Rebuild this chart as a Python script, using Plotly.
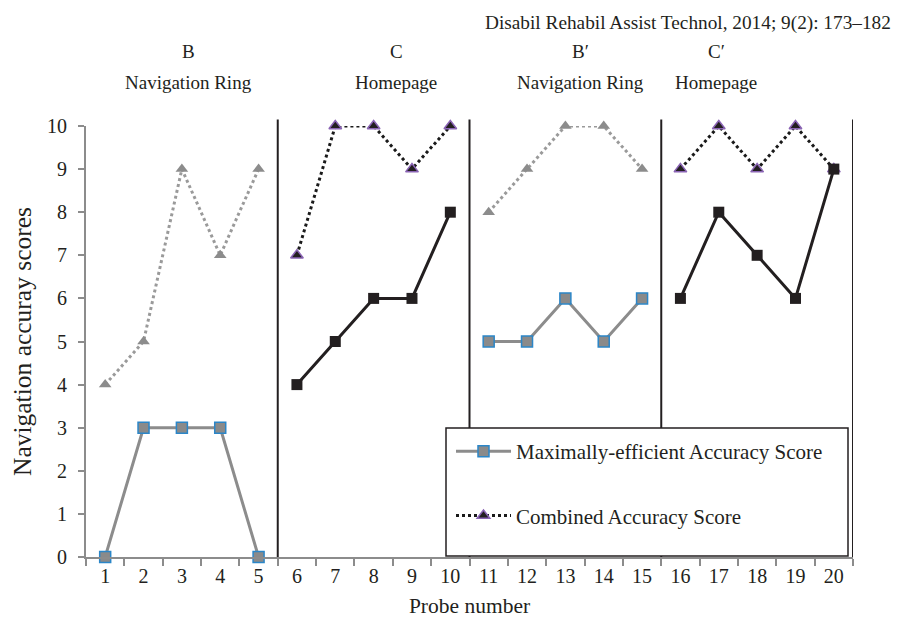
import plotly.graph_objects as go

probes = [str(i) for i in range(1, 21)]
max_eff = [0, 3, 3, 3, 0, 4, 5, 6, 6, 8, 5, 5, 6, 5, 6, 6, 8, 7, 6, 9]
combined = [4, 5, 9, 7, 9, 7, 10, 10, 9, 10, 8, 9, 10, 10, 9, 9, 10, 9, 10, 9]
phase_letters = ["B", "C", "B\u2032", "C\u2032"]
phase_names = ["Navigation Ring", "Homepage", "Navigation Ring", "Homepage"]
phase_kind = ["B", "C", "B", "C"]
citation = "Disabil Rehabil Assist Technol, 2014; 9(2): 173\u2013182"

FONT = "Liberation Serif, Times New Roman, serif"
INK = "#231f20"
L, R, T, B = 78, 58, 118, 69
PW, PH = 903 - L - R, 618 - T - B


def px(xp):
    return (xp - L) / PW


def py(yp):
    return (618 - B - yp) / PH


fig = go.Figure()

for p in range(4):
    xs = probes[p * 5:(p + 1) * 5]
    me = max_eff[p * 5:(p + 1) * 5]
    cb = combined[p * 5:(p + 1) * 5]
    if phase_kind[p] == "B":
        fig.add_trace(go.Scatter(
            x=xs, y=cb, mode="lines+markers", cliponaxis=False,
            line=dict(color="#9a9a9a", width=3, dash="dot"),
            marker=dict(symbol="triangle-up", size=11, color="#8c8c8c"),
            showlegend=False))
        fig.add_trace(go.Scatter(
            x=xs, y=me, mode="lines+markers", cliponaxis=False,
            name="Maximally-efficient Accuracy Score", legendgroup="a",
            line=dict(color="#8c8c8c", width=3),
            marker=dict(symbol="square", size=11, color="#8a8a8a",
                        line=dict(color="#2b86c8", width=1.5)),
            showlegend=(p == 0), legendrank=1))
    else:
        fig.add_trace(go.Scatter(
            x=xs, y=cb, mode="lines+markers", cliponaxis=False,
            name="Combined Accuracy Score", legendgroup="b",
            line=dict(color="#1a1a1a", width=3, dash="dot"),
            marker=dict(symbol="triangle-up", size=11, color=INK,
                        line=dict(color="#8a64b4", width=1.5)),
            showlegend=(p == 1), legendrank=2))
        fig.add_trace(go.Scatter(
            x=xs, y=me, mode="lines+markers", cliponaxis=False,
            line=dict(color=INK, width=3),
            marker=dict(symbol="square", size=11, color=INK),
            showlegend=False))

# phase change lines
for b in [4.5, 9.5, 14.5, 19.5]:
    fig.add_shape(type="line", xref="x", yref="y domain", x0=b, x1=b, y0=0, y1=1.015,
                  line=dict(color=INK, width=2), layer="above")

# legend frame
fig.add_shape(type="rect", xref="paper", yref="paper", x0=px(438), x1=px(840),
              y0=py(548), y1=py(420), fillcolor="white",
              line=dict(color=INK, width=1.5), layer="above")

header_x = [180, 388, 572, 708]
for i in range(4):
    fig.add_annotation(xref="paper", yref="paper", x=px(header_x[i]), y=py(43),
                       xanchor="center", yanchor="middle", text=phase_letters[i],
                       showarrow=False, font=dict(family=FONT, size=19, color=INK))
    fig.add_annotation(xref="paper", yref="paper", x=px(header_x[i]), y=py(74),
                       xanchor="center", yanchor="middle", text=phase_names[i],
                       showarrow=False, font=dict(family=FONT, size=19, color=INK))
fig.add_annotation(xref="paper", yref="paper", x=px(885), y=py(15),
                   xanchor="right", yanchor="middle", text=citation, showarrow=False,
                   font=dict(family=FONT, size=19.3, color=INK))

fig.update_layout(
    width=903, height=618,
    margin=dict(l=L, r=R, t=T, b=B),
    paper_bgcolor="white", plot_bgcolor="white",
    font=dict(family=FONT, size=20, color=INK),
    xaxis=dict(type="category", range=[-0.5, 19.5], tickson="boundaries",
               ticks="outside", ticklen=7, tickcolor="#8c8c8c", tickwidth=1.5,
               showline=True, linecolor="#8c8c8c", linewidth=2, showgrid=False,
               zeroline=False, tickfont=dict(size=20),
               title=dict(text="Probe number", font=dict(size=21.5), standoff=12)),
    yaxis=dict(range=[0, 10], dtick=1, ticks="outside", ticklen=6, tickcolor="#8c8c8c",
               tickwidth=1.5, showline=True, linecolor="#8c8c8c", linewidth=2,
               showgrid=False, zeroline=False, tickfont=dict(size=20),
               ticklabelstandoff=7,
               title=dict(text="Navigation accuray scores", font=dict(size=25.5), standoff=9)),
    legend=dict(x=px(443), y=py(423), xanchor="left", yanchor="top",
                bgcolor="rgba(0,0,0,0)", borderwidth=0,
                font=dict(family=FONT, size=21, color=INK),
                itemwidth=55, tracegroupgap=34, traceorder="grouped"),
)

fig.write_html("out.html")
